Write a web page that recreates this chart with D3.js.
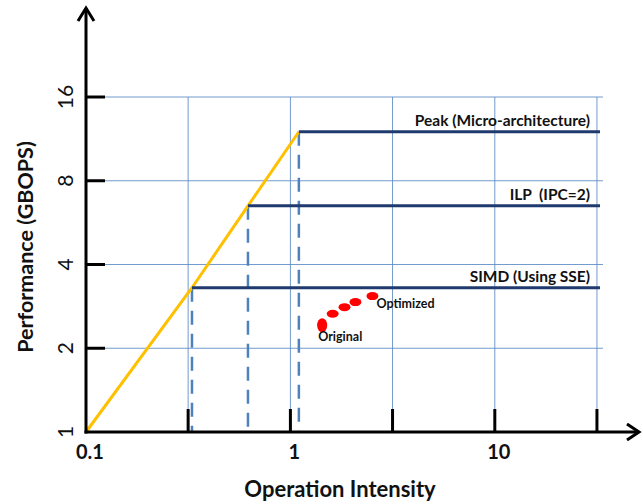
<!DOCTYPE html>
<html><head><meta charset="utf-8">
<script src="https://cdn.jsdelivr.net/npm/d3@7"></script>
<style>body{margin:0;background:#fff}svg{display:block}text{font-family:Lato,"Open Sans",sans-serif}</style>
</head><body>
<svg id="c" width="643" height="504"></svg>
<script>
// ---- data ----
const xTickMarks = [0.316, 1, 3.16, 10, 31.6];
const xTickLabels = [0.1, 1, 10];
const yTicks = [1, 2, 4, 8, 16];
const yGrid = [2, 4, 8, 16];
const roofOI = [0.1, 0.33, 0.62, 1.10];
const roofPerf = [1, 3.3, 6.5, 12];
const ceilingNames = ["SIMD (Using SSE)", "ILP  (IPC=2)", "Peak (Micro-architecture)"];
const ceilingStartOI = [0.33, 0.62, 1.10];
const ceilingPerf = [3.3, 6.5, 12];
const ceilingEndOI = 32.7;
const pointOI = [1.43, 1.61, 1.84, 2.08, 2.52];
const pointPerf = [2.42, 2.66, 2.81, 2.93, 3.08];
const pointNames = ["Original", "", "", "", "Optimized"];

const svg = d3.select("#c");
const x = d3.scaleLog().domain([0.1, 31.62]).range([86, 597]);
const y = d3.scaleLog().base(2).domain([1, 16]).range([432, 97]);
const x0 = x(0.1), y0 = y(1);
const gridColor = "#5b8ac6";

// grid
const g = svg.append("g");
g.selectAll("line.hg").data(yGrid).join("line")
  .attr("x1", x0).attr("x2", 603).attr("y1", d => y(d)).attr("y2", d => y(d))
  .attr("stroke", gridColor).attr("stroke-width", 1).attr("opacity", 0.85);
g.selectAll("line.vg").data(xTickMarks).join("line")
  .attr("x1", d => x(d)).attr("x2", d => x(d)).attr("y1", y(16)).attr("y2", y0)
  .attr("stroke", gridColor).attr("stroke-width", 1).attr("opacity", 0.85);

// dashed drops
g.selectAll("line.dd").data(ceilingStartOI).join("line")
  .attr("x1", d => x(d)).attr("x2", d => x(d))
  .attr("y1", (d, i) => y(ceilingPerf[i])).attr("y2", y0)
  .attr("stroke", "#4f81bd").attr("stroke-width", 2.5).attr("stroke-dasharray", "14,9");

// roof (bandwidth)
const pts = roofOI.map((d, i) => [x(d), y(roofPerf[i])]);
svg.append("path").attr("d", d3.line()(pts)).attr("fill", "none")
  .attr("stroke", "#ffc000").attr("stroke-width", 3);

// ceilings
svg.selectAll("line.ce").data(ceilingStartOI).join("line")
  .attr("x1", d => x(d)).attr("x2", x(ceilingEndOI))
  .attr("y1", (d, i) => y(ceilingPerf[i])).attr("y2", (d, i) => y(ceilingPerf[i]))
  .attr("stroke", "#1f3a6e").attr("stroke-width", 3);
svg.selectAll("text.ce").data(ceilingNames).join("text")
  .attr("x", 590).attr("y", (d, i) => y(ceilingPerf[i]) - 6)
  .attr("text-anchor", "end").attr("font-size", 15.5).attr("font-weight", 700)
  .attr("fill", "#111").style("white-space", "pre").text(d => d);

// points
svg.selectAll("ellipse").data(pointOI).join("ellipse")
  .attr("cx", d => x(d)).attr("cy", (d, i) => y(pointPerf[i]))
  .attr("rx", (d, i) => i === 0 ? 5 : 6).attr("ry", (d, i) => i === 0 ? 7 : 4)
  .attr("fill", "#ff0000");
svg.append("text").attr("x", x(pointOI[0]) - 4).attr("y", y(pointPerf[0]) + 16)
  .attr("font-size", 12.5).attr("font-weight", 700).attr("fill", "#111").text(pointNames[0]);
svg.append("text").attr("x", x(pointOI[4]) + 4).attr("y", y(pointPerf[4]) + 12)
  .attr("font-size", 12.5).attr("font-weight", 700).attr("fill", "#111").text(pointNames[4]);

// axes
const ax = svg.append("g").attr("stroke", "#000").attr("stroke-width", 3).attr("fill", "none");
ax.append("line").attr("x1", x0).attr("x2", x0).attr("y1", y0 + 1.5).attr("y2", 8);
ax.append("polyline").attr("points", `${x0-8},21 ${x0},8 ${x0+8},21`);
ax.append("line").attr("x1", x0 - 1.5).attr("x2", 639).attr("y1", y0).attr("y2", y0);
ax.append("polyline").attr("points", `627,424 639,${y0} 627,440`);
ax.selectAll("line.yt").data(yTicks.slice(1)).join("line")
  .attr("x1", x0).attr("x2", x0 + 19).attr("y1", d => y(d)).attr("y2", d => y(d));
ax.selectAll("line.xt").data(xTickMarks).join("line")
  .attr("x1", d => x(d)).attr("x2", d => x(d)).attr("y1", y0).attr("y2", y0 - 23);

// tick labels
svg.selectAll("text.yl").data(yTicks).join("text")
  .attr("transform", d => `translate(73,${y(d)}) rotate(-90)`)
  .attr("text-anchor", "middle").attr("font-size", 21).attr("fill", "#111").text(d => d);
svg.selectAll("text.xl").data(xTickLabels).join("text")
  .attr("x", d => x(d) + 4).attr("y", 459).attr("text-anchor", "middle")
  .attr("font-size", 20).attr("font-weight", 700).attr("fill", "#111").text(d => d);

// titles
svg.append("text").attr("x", 340).attr("y", 497).attr("text-anchor", "middle")
  .attr("font-size", 22).attr("font-weight", 700).attr("fill", "#111").text("Operation Intensity");
svg.append("text").attr("transform", "translate(33,247) rotate(-90)").attr("text-anchor", "middle")
  .attr("font-size", 21.5).attr("font-weight", 700).attr("fill", "#111").text("Performance (GBOPS)");
</script>
</body></html>
